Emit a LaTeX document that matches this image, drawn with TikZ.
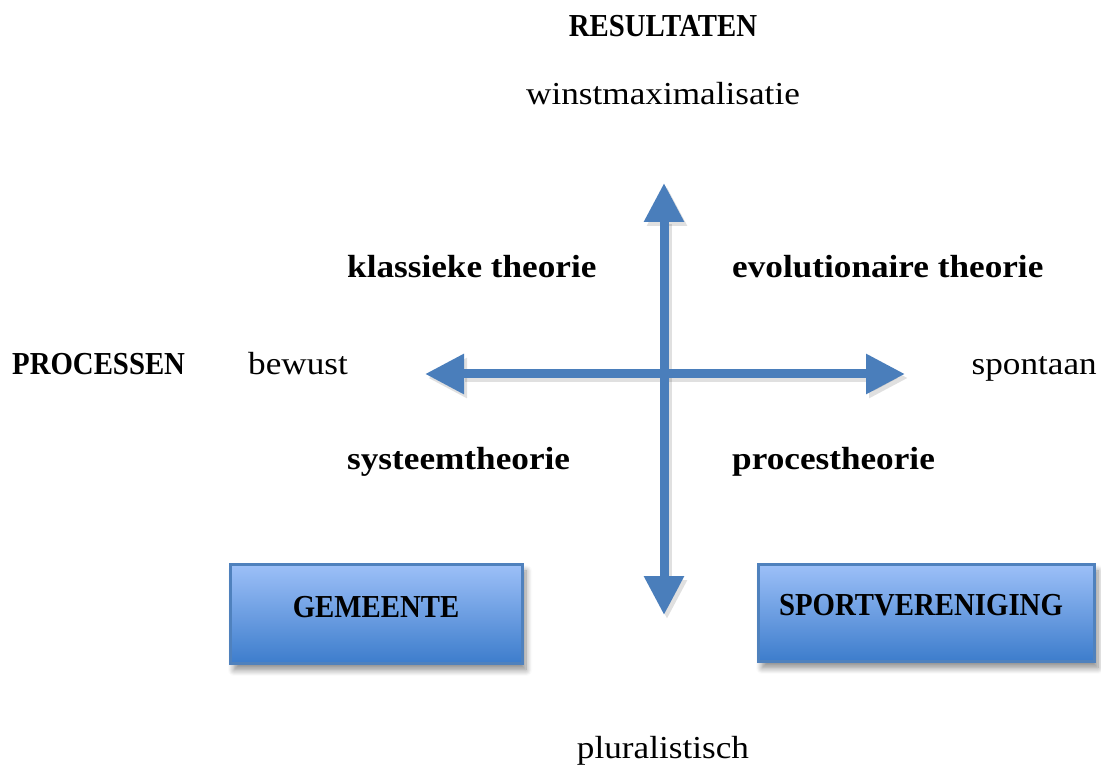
\documentclass[tikz,border=0pt]{standalone}
\usepackage{fontspec}
\setmainfont{Liberation Serif}[FakeStretch=1.1]
\newfontfamily\capsfont{Liberation Serif}[FakeStretch=0.9]
\usetikzlibrary{arrows.meta,shadows.blur}
\definecolor{arrowblue}{HTML}{4A7EBB}
\definecolor{boxtop}{HTML}{9DC0F8}
\definecolor{boxbot}{HTML}{3D7DCC}
\definecolor{boxedge}{HTML}{4F81BD}
\tikzset{
  lbl/.style={inner sep=0pt,font=\fontsize{32}{38}\selectfont},
  blbl/.style={lbl,font=\fontsize{32}{38}\selectfont\bfseries},
  clbl/.style={inner sep=0pt,font=\capsfont\fontsize{32}{38}\selectfont\bfseries},
  axis/.style={line width=9pt,draw=arrowblue,
    {Triangle[width=38pt,length=39pt]}-{Triangle[width=38pt,length=39pt]}},
  axisshadow/.style={line width=9pt,draw=black,opacity=0.12,
    {Triangle[width=38pt,length=39pt]}-{Triangle[width=38pt,length=39pt]}},
  actor/.style={draw=boxedge,line width=3pt,top color=boxtop,bottom color=boxbot,
    blur shadow={shadow xshift=4pt,shadow yshift=-7pt,shadow blur steps=8,shadow blur radius=6pt,shadow opacity=45},
    inner sep=0pt}
}
\begin{document}
\begin{tikzpicture}[x=1pt,y=1pt]
\useasboundingbox (0,0) rectangle (1101,764);
% axes
\coordinate (top) at (664,581);
\coordinate (bot) at (664,149);
\coordinate (lft) at (425,390);
\coordinate (rgt) at (905,390);
\draw[axisshadow,transform canvas={xshift=3pt,yshift=-4pt}] (top) -- (bot);
\draw[axisshadow,transform canvas={xshift=3pt,yshift=-4pt}] (lft) -- (rgt);
\draw[axis] (lft) -- (rgt);
\draw[axis] (top) -- (bot);
% boxes
\node[actor,minimum width=292pt,minimum height=99pt] (gem) at (376,150.5) {};
\node[actor,minimum width=336pt,minimum height=97pt] (spv) at (926,151.5) {};
\node[clbl,anchor=base] (gemt) at (376,147) {GEMEENTE};
\node[clbl,anchor=base] (spvt) at (921,149) {SPORTVERENIGING};
% labels
\node[clbl,anchor=base] (res) at (663,727) {RESULTATEN};
\node[lbl,anchor=base] (winst) at (663,659) {winstmaximalisatie};
\node[blbl,anchor=base west] (klas) at (347,486) {klassieke theorie};
\node[blbl,anchor=base west] (evo) at (732,486) {evolutionaire theorie};
\node[clbl,anchor=base west] (proc) at (12,389) {PROCESSEN};
\node[lbl,anchor=base west] (bew) at (248,389) {bewust};
\node[lbl,anchor=base east] (spon) at (1097,389) {spontaan};
\node[blbl,anchor=base west] (sys) at (347,294) {systeemtheorie};
\node[blbl,anchor=base west] (pro) at (732,294) {procestheorie};
\node[lbl,anchor=base] (plur) at (663,6) {pluralistisch};
\end{tikzpicture}
\end{document}
